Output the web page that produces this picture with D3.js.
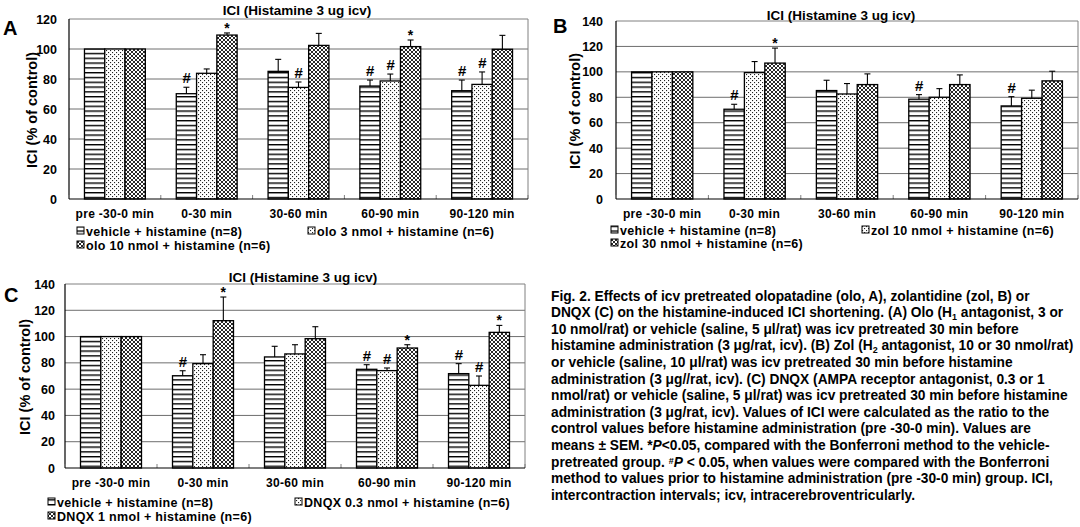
<!DOCTYPE html>
<html>
<head>
<meta charset="utf-8">
<script src="https://cdn.jsdelivr.net/npm/d3@7"></script>
<style>
  body { margin: 0; background: #fff; }
  svg { display: block; }
  text { font-family: "Liberation Sans", Arial, sans-serif; font-weight: bold; fill: #000; }
</style>
</head>
<body>
<svg id="fig" width="1080" height="527"></svg>
<script>
// ---- data ----
const groups = ["pre -30-0 min", "0-30 min", "30-60 min", "60-90 min", "90-120 min"];

// panel A: olopatadine
const oloLabels = ["vehicle + histamine (n=8)", "olo 3 nmol + histamine (n=6)", "olo 10 nmol + histamine (n=6)"];
const oloVehicle = [100, 70.2, 85.1, 75.3, 72.2];
const oloVehicleSem = [0, 4.3, 8.0, 4.0, 7.1];
const olo3 = [100, 83.8, 74.4, 78.7, 76.4];
const olo3Sem = [0, 2.9, 3.6, 4.6, 8.3];
const olo10 = [100, 109.3, 102.4, 101.6, 99.8];
const olo10Sem = [0, 1.4, 8.0, 4.4, 9.3];
const oloMarks = [["", "", ""], ["#", "", "*"], ["", "#", ""], ["#", "#", "*"], ["#", "#", ""]];

// panel B: zolantidine
const zolLabels = ["vehicle + histamine (n=8)", "zol 10 nmol + histamine (n=6)", "zol 30 nmol + histamine (n=6)"];
const zolVehicle = [100, 70.6, 85.3, 78.5, 73.2];
const zolVehicleSem = [0, 3.9, 8.1, 3.6, 7.3];
const zol10 = [100, 99.4, 82.6, 80.0, 79.2];
const zol10Sem = [0, 8.7, 8.2, 6.8, 6.4];
const zol30 = [100, 106.9, 90.0, 90.0, 92.9];
const zol30Sem = [0, 11.8, 8.4, 7.6, 7.6];
const zolMarks = [["", "", ""], ["#", "", "*"], ["", "", ""], ["#", "", ""], ["#", "", ""]];

// panel C: DNQX
const dnqxLabels = ["vehicle + histamine (n=8)", "DNQX 0.3 nmol + histamine (n=6)", "DNQX 1 nmol + histamine (n=6)"];
const dnqxVehicle = [100, 70.2, 84.5, 75.1, 71.8];
const dnqxVehicleSem = [0, 3.8, 8.1, 3.5, 7.6];
const dnqx03 = [100, 79.4, 86.8, 74.1, 62.9];
const dnqx03Sem = [0, 6.8, 7.0, 2.0, 7.1];
const dnqx1 = [100, 112.1, 98.4, 91.3, 103.2];
const dnqx1Sem = [0, 18.0, 9.1, 2.5, 5.3];
const dnqxMarks = [["", "", ""], ["#", "", "*"], ["", "", ""], ["#", "#", "*"], ["#", "#", "*"]];

const chartTitle = "ICI (Histamine 3 ug icv)";
const yTitle = "ICI (% of control)";

// caption lines, as [text, style] segments
const caption = [
  [["Fig. 2. Effects of icv pretreated olopatadine (olo, A), zolantidine (zol, B) or"]],
  [["DNQX (C) on the histamine-induced ICI shortening. (A) Olo (H"], ["1", "sub"], [" antagonist, 3 or"]],
  [["10 nmol/rat) or vehicle (saline, 5 \u03bcl/rat) was icv pretreated 30 min before"]],
  [["histamine administration (3 \u03bcg/rat, icv). (B) Zol (H"], ["2", "sub"], [" antagonist, 10 or 30 nmol/rat)"]],
  [["or vehicle (saline, 10 \u03bcl/rat) was icv pretreated 30 min before histamine"]],
  [["administration (3 \u03bcg//rat, icv). (C) DNQX (AMPA receptor antagonist, 0.3 or 1"]],
  [["nmol/rat) or vehicle (saline, 5 \u03bcl/rat) was icv pretreated 30 min before histamine"]],
  [["administration (3 \u03bcg/rat, icv). Values of ICI were calculated as the ratio to the"]],
  [["control values before histamine administration (pre -30-0 min). Values are"]],
  [["means \u00b1 SEM. *"], ["P", "i"], ["<0.05, compared with the Bonferroni method to the vehicle-"]],
  [["pretreated group. "], ["#", "sup"], ["P", "i"], [" < 0.05, when values were compared with the Bonferroni"]],
  [["method to values prior to histamine administration (pre -30-0 min) group. ICI,"]],
  [["intercontraction intervals; icv, intracerebroventricularly."]]
];

// ---- drawing ----
const svg = d3.select("#fig");
svg.append("rect").attr("width", 1080).attr("height", 527).attr("fill", "#fff");

const defs = svg.append("defs");
// horizontal stripes
const ps = defs.append("pattern").attr("id", "hstripe").attr("patternUnits", "userSpaceOnUse")
    .attr("width", 6).attr("height", 4.8);
ps.append("rect").attr("width", 6).attr("height", 4.8).attr("fill", "#fff");
ps.append("rect").attr("y", 0).attr("width", 6).attr("height", 1.4).attr("fill", "#000");
// sparse dots
const pd = defs.append("pattern").attr("id", "dots").attr("patternUnits", "userSpaceOnUse")
    .attr("width", 4).attr("height", 4);
pd.append("rect").attr("width", 4).attr("height", 4).attr("fill", "#fff");
pd.append("rect").attr("x", 0).attr("y", 0).attr("width", 1.1).attr("height", 1.1).attr("fill", "#222");
pd.append("rect").attr("x", 2).attr("y", 2).attr("width", 1.1).attr("height", 1.1).attr("fill", "#222");
// dense cross hatch
const px = defs.append("pattern").attr("id", "xhatch").attr("patternUnits", "userSpaceOnUse")
    .attr("width", 4).attr("height", 4);
px.append("rect").attr("width", 4).attr("height", 4).attr("fill", "#fff");
px.append("path").attr("d", "M0,0L4,4M4,0L0,4M-1,3L1,5M3,-1L5,1M-1,1L1,-1M3,5L5,3")
    .attr("stroke", "#111").attr("stroke-width", 0.9);

const patterns = ["hstripe", "dots", "xhatch"];

function drawPanel(p) {
  const g = svg.append("g");
  const pad = 0.337;
  const x = d3.scaleBand().domain(groups).range([p.left, p.right])
      .paddingInner(pad).paddingOuter(pad / 2);
  const xs = d3.scaleBand().domain([0, 1, 2]).range([0, x.bandwidth()]);
  const y = d3.scaleLinear().domain([0, p.yMax]).range([p.bottom, p.top]);

  // gridlines
  g.append("g").selectAll("line")
    .data(d3.range(20, p.yMax, 20))
    .join("line")
      .attr("x1", p.left).attr("x2", p.right)
      .attr("y1", d => y(d)).attr("y2", d => y(d))
      .attr("stroke", "#6e6e6e").attr("stroke-width", 1);

  // plot frame (top/right grey)
  g.append("path")
    .attr("d", `M${p.left},${y(p.yMax)}H${p.right}V${y(0)}`)
    .attr("fill", "none").attr("stroke", "#808080").attr("stroke-width", 1);

  // bars + error bars
  p.series.forEach((s, i) => {
    const sg = g.append("g");
    const rows = s.values.map((v, j) => ({ v, e: s.sem[j], grp: groups[j], mark: p.marks[j][i] }));
    sg.selectAll("rect").data(rows).join("rect")
      .attr("x", d => x(d.grp) + xs(i))
      .attr("y", d => y(d.v))
      .attr("width", xs.bandwidth())
      .attr("height", d => y(0) - y(d.v))
      .attr("fill", `url(#${patterns[i]})`)
      .attr("stroke", "#000").attr("stroke-width", 1.3);

    const eb = sg.selectAll("g.err").data(rows.filter(d => d.e > 0)).join("g").attr("class", "err");
    eb.append("line")
      .attr("x1", d => x(d.grp) + xs(i) + xs.bandwidth() / 2)
      .attr("x2", d => x(d.grp) + xs(i) + xs.bandwidth() / 2)
      .attr("y1", d => y(d.v)).attr("y2", d => y(d.v + d.e))
      .attr("stroke", "#000").attr("stroke-width", 1.1);
    eb.append("line")
      .attr("x1", d => x(d.grp) + xs(i) + xs.bandwidth() / 2 - 3)
      .attr("x2", d => x(d.grp) + xs(i) + xs.bandwidth() / 2 + 3)
      .attr("y1", d => y(d.v + d.e)).attr("y2", d => y(d.v + d.e))
      .attr("stroke", "#000").attr("stroke-width", 1.1);

    sg.selectAll("text.mark").data(rows.filter(d => d.mark)).join("text")
      .attr("class", "mark")
      .attr("x", d => x(d.grp) + xs(i) + xs.bandwidth() / 2)
      .attr("y", d => y(d.v + d.e) - (d.mark === "#" ? 4 : 0))
      .attr("text-anchor", "middle")
      .attr("font-size", d => d.mark === "#" ? 15 : 14)
      .attr("font-style", d => d.mark === "#" ? "italic" : null)
      .text(d => d.mark);
  });

  // y axis
  const ya = g.append("g")
    .attr("transform", `translate(${p.left},0)`)
    .call(d3.axisLeft(y).tickValues(d3.range(0, p.yMax + 1, 20)).tickSize(0).tickPadding(p.tickPad));
  ya.select(".domain").remove();
  ya.selectAll("text").attr("font-size", 12.5).attr("font-family", null).attr("fill", "#000");
  g.append("line").attr("x1", p.left).attr("x2", p.left).attr("y1", y(0)).attr("y2", y(p.yMax))
    .attr("stroke", "#000").attr("stroke-width", 1.2);

  // x axis
  const xa = g.append("g")
    .attr("transform", `translate(0,${y(0)})`)
    .call(d3.axisBottom(x).tickSize(0).tickPadding(10));
  xa.select(".domain").remove();
  xa.selectAll("text").attr("font-size", 12).attr("font-family", null).attr("fill", "#000")
    .attr("letter-spacing", 0.3);
  const step = x.step();
  g.append("g").selectAll("line")
    .data(groups.concat([null]))
    .join("line")
      .attr("x1", d => d ? x(d) - step * pad / 2 : p.right)
      .attr("x2", d => d ? x(d) - step * pad / 2 : p.right)
      .attr("y1", y(0)).attr("y2", y(0) - 4)
      .attr("stroke", "#808080");
  g.append("line").attr("x1", p.left).attr("x2", p.right).attr("y1", y(0)).attr("y2", y(0))
    .attr("stroke", "#000").attr("stroke-width", 1.2);

  // titles
  g.append("text").attr("x", p.titleX).attr("y", p.titleY).attr("text-anchor", "middle")
    .attr("font-size", 13.5).text(chartTitle);
  g.append("text").attr("transform", `translate(${p.yTitleX},${(p.top + p.bottom) / 2 + 1}) rotate(-90)`)
    .attr("text-anchor", "middle").attr("font-size", 14.5).text(yTitle);
  g.append("text").attr("x", p.letterX).attr("y", p.letterY).attr("font-size", 20).text(p.letter);

  // legend: two columns, third item on second row
  const spots = [[p.legX[0], p.legY[0]], [p.legX[1], p.legY[0]], [p.legX[0], p.legY[1]]];
  p.labels.forEach((lab, i) => {
    const [lx, ly] = spots[i];
    g.append("rect").attr("x", lx).attr("y", ly - 4).attr("width", 7).attr("height", 7)
      .attr("fill", `url(#${patterns[i]})`).attr("stroke", "#000").attr("stroke-width", 1);
    g.append("text").attr("x", lx + 9).attr("y", ly + 4.5).attr("font-size", 12.5)
      .attr("letter-spacing", 0.3).text(lab);
  });
}

drawPanel({
  letter: "A", letterX: 3, letterY: 35,
  left: 69, right: 528, top: 19, bottom: 199, yMax: 120, tickPad: 12,
  titleX: 297, titleY: 15, yTitleX: 37,
  legX: [77, 308], legY: [231, 245],
  labels: oloLabels,
  series: [
    { values: oloVehicle, sem: oloVehicleSem },
    { values: olo3, sem: olo3Sem },
    { values: olo10, sem: olo10Sem }
  ],
  marks: oloMarks
});

drawPanel({
  letter: "B", letterX: 553, letterY: 33,
  left: 616, right: 1078, top: 21, bottom: 199, yMax: 140, tickPad: 13,
  titleX: 841, titleY: 20, yTitleX: 580,
  legX: [611, 862], legY: [230, 243],
  labels: zolLabels,
  series: [
    { values: zolVehicle, sem: zolVehicleSem },
    { values: zol10, sem: zol10Sem },
    { values: zol30, sem: zol30Sem }
  ],
  marks: zolMarks
});

drawPanel({
  letter: "C", letterX: 4, letterY: 302,
  left: 65, right: 525, top: 284, bottom: 468, yMax: 140, tickPad: 10,
  titleX: 303, titleY: 282, yTitleX: 30,
  legX: [48, 295], legY: [502, 516],
  labels: dnqxLabels,
  series: [
    { values: dnqxVehicle, sem: dnqxVehicleSem },
    { values: dnqx03, sem: dnqx03Sem },
    { values: dnqx1, sem: dnqx1Sem }
  ],
  marks: dnqxMarks
});

// caption block
const cap = svg.append("g").attr("font-size", 13);
const capLines = cap.selectAll("text").data(caption).join("text")
  .attr("x", 551)
  .attr("y", (d, i) => 300.5 + i * 16.6);
capLines.each(function(segs) {
  const t = d3.select(this);
  segs.forEach(([txt, st]) => {
    const ts = t.append("tspan").text(txt);
    if (st === "sub") ts.attr("dy", 2.5).attr("font-size", "65%");
    if (st === "sup") ts.attr("dy", -3).attr("font-size", "65%");
    if (st === "i") ts.attr("font-style", "italic");
    // return to the line's baseline after a shifted piece
    if (st === "sub" || st === "sup") ts.attr("class", "shift");
  });
  t.selectAll("tspan.shift").each(function() {
    const next = this.nextSibling;
    if (next) d3.select(next).attr("dy", -(+d3.select(this).attr("dy")));
  });
});
// fit font so the first line spans like the original (551..1030)
const w0 = capLines.node().getComputedTextLength();
cap.attr("font-size", 13 * 479 / w0);
</script>
</body>
</html>
